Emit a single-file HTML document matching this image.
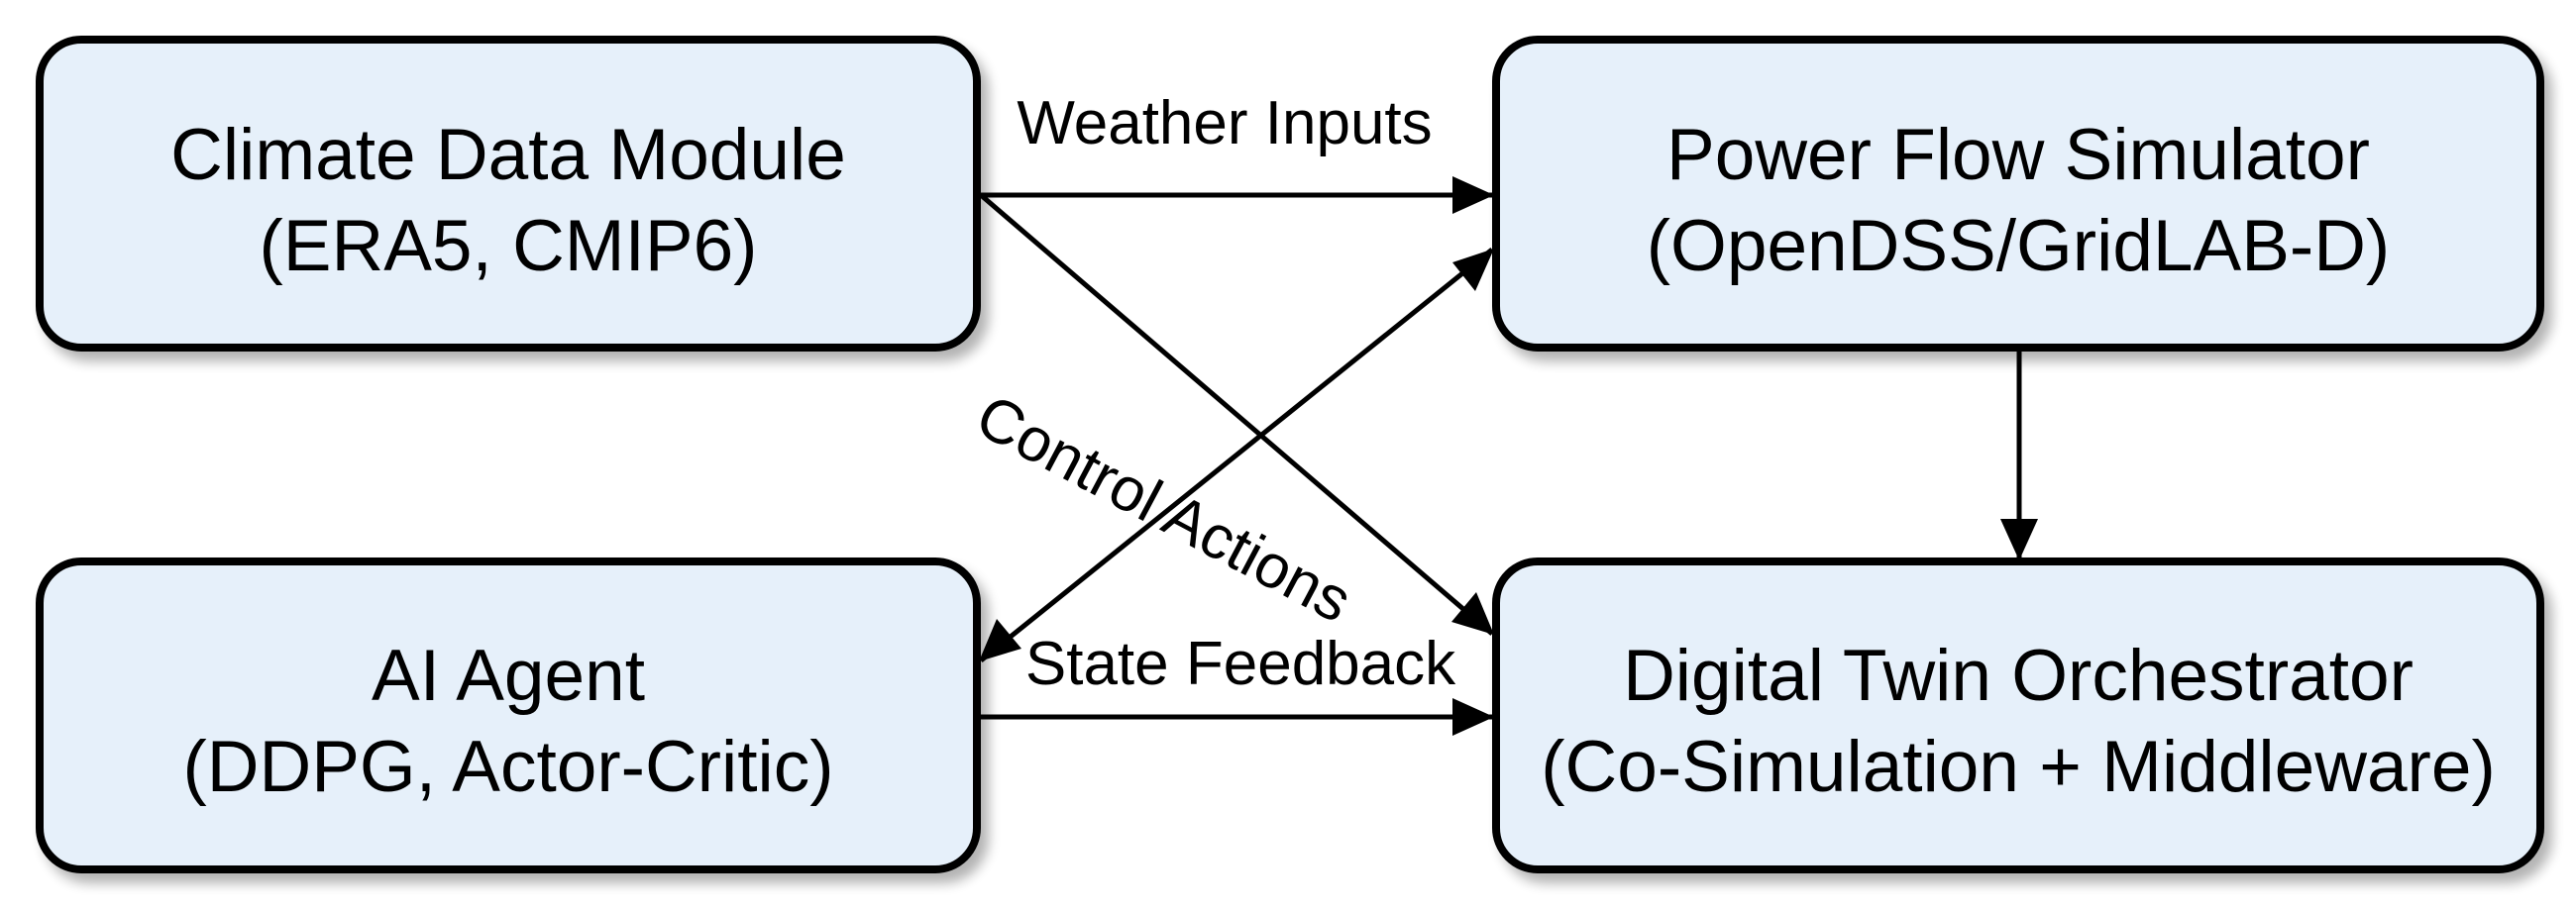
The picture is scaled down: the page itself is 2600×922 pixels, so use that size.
<!DOCTYPE html>
<html><head><meta charset="utf-8"><style>
html,body{margin:0;padding:0;background:#fff;}
svg{display:block}
text{font-family:"Liberation Sans",Arial,sans-serif;fill:#000}
</style></head><body>
<svg width="2600" height="922" viewBox="0 0 2600 922" xmlns="http://www.w3.org/2000/svg">
<defs>
<filter id="sh" x="-10%" y="-10%" width="130%" height="140%">
<feGaussianBlur in="SourceAlpha" stdDeviation="6"/>
<feOffset dx="8" dy="10" result="b"/>
<feComponentTransfer><feFuncA type="linear" slope="0.3"/></feComponentTransfer>
<feMerge><feMergeNode/><feMergeNode in="SourceGraphic"/></feMerge>
</filter>
</defs>
<g filter="url(#sh)" fill="#e6f0fa" stroke="#000" stroke-width="8">
<rect x="40" y="40" width="946" height="311" rx="42"/>
<rect x="1510" y="40" width="1054" height="311" rx="42"/>
<rect x="40" y="567" width="946" height="311" rx="42"/>
<rect x="1510" y="567" width="1054" height="311" rx="42"/>
</g>
<g font-size="73" text-anchor="middle">
<text x="513" y="181">Climate Data Module</text>
<text x="513" y="273">(ERA5, CMIP6)</text>
<text x="2037" y="181">Power Flow Simulator</text>
<text x="2037" y="273">(OpenDSS/GridLAB-D)</text>
<text x="513" y="707">AI Agent</text>
<text x="513" y="799">(DDPG, Actor-Critic)</text>
<text x="2037" y="707">Digital Twin Orchestrator</text>
<text x="2037" y="799">(Co-Simulation + Middleware)</text>
</g>
<g stroke="#000" stroke-width="5" fill="none">
<line x1="990" y1="197" x2="1506" y2="197"/>
<line x1="990" y1="197" x2="1506" y2="640"/>
<line x1="990" y1="667" x2="1506" y2="252"/>
<line x1="990" y1="724" x2="1506" y2="724"/>
<line x1="2038" y1="355" x2="2038" y2="564"/>
</g>
<g fill="#000">
<path d="M1508,197 L1466,178 L1466,216 z"/>
<path d="M1508,641 L1490,598 L1465,628 z"/>
<path d="M1508,251 L1466,265 L1489,294 z"/>
<path d="M988,668 L1031,655 L1006,625 z"/>
<path d="M1508,724 L1466,705 L1466,743 z"/>
<path d="M2038,566 L2019,524 L2057,524 z"/>
</g>
<g font-size="62">
<text x="1236" y="145" text-anchor="middle">Weather Inputs</text>
<text x="1252" y="691" text-anchor="middle">State Feedback</text>
<text x="1165" y="532" text-anchor="middle" transform="rotate(28 1165 532)">Control Actions</text>
</g>
</svg>
</body></html>
